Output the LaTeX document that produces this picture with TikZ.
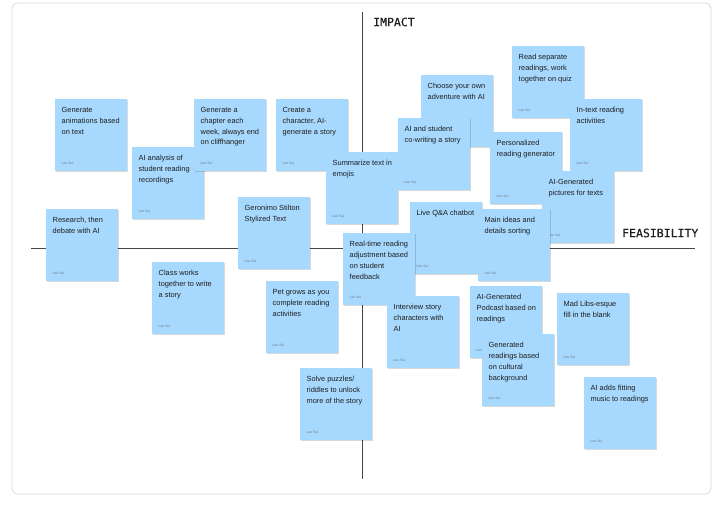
\documentclass[tikz,border=0pt]{standalone}
\usepackage{fontspec}
\setmainfont{Liberation Sans}
\newfontfamily\axisfont[FakeBold=0.5]{DejaVu Sans Mono}
\usetikzlibrary{shadows}

\definecolor{stickyblue}{RGB}{167,216,253}
\definecolor{inkgray}{RGB}{30,30,30}
\definecolor{axisgray}{RGB}{70,70,70}

% text of one sticky note, author line at the bottom
\newcommand{\stickybody}[1]{\vbox to 72pt{\hsize=72pt\parindent=0pt\raggedright\leftskip=6.5pt
  \vskip 8.4pt{\fontsize{7.4}{10.7}\selectfont\color{inkgray}#1\par}
  \vfill{\fontsize{3.4}{4}\selectfont\color{black!55}Leo Sui\par}\vskip 6.8pt}}

\begin{document}
\begin{tikzpicture}[
  x=1pt, y=-1pt,
  sticky/.style={fill=stickyblue, anchor=north west, inner sep=0pt, minimum width=72pt, minimum height=72pt,
    drop shadow={shadow xshift=0.3pt, shadow yshift=-0.9pt, opacity=0.15, fill=black}},
  axisline/.style={draw=axisgray, line width=1pt},
  axislabel/.style={anchor=west, inner sep=0pt, font=\axisfont\fontsize{11.5}{12}\selectfont, text=inkgray},
  frame/.style={draw=black!15, line width=0.8pt, rounded corners=6pt}
]
\useasboundingbox (0,0) rectangle (724,507);

\draw[frame] (12,3) rectangle (711,494);

% axes
\coordinate (impact top) at (362,12);
\coordinate (impact bottom) at (362,479);
\coordinate (feas left) at (31,248);
\coordinate (feas right) at (695,248);
\draw[axisline] (impact top) -- (impact bottom);
\draw[axisline] (feas left) -- (feas right);
\node[axislabel] (impact) at (373,22) {IMPACT};
\node[axislabel] (feasibility) at (622,233) {FEASIBILITY};

% low feasibility side
\node[sticky] (animations) at (55,99) {\stickybody{Generate\\animations based\\on text}};
\node[sticky] (recordings) at (132,147) {\stickybody{AI analysis of\\student reading\\recordings}};
\node[sticky] (chapter) at (194,99) {\stickybody{Generate a\\chapter each\\week, always end\\on cliffhanger}};
\node[sticky] (character) at (276,99) {\stickybody{Create a\\character, AI-\\generate a story}};
\node[sticky] (emojis) at (326,152) {\stickybody{Summarize text in\\emojis}};
\node[sticky] (debate) at (46,209) {\stickybody{Research, then\\debate with AI}};
\node[sticky] (stilton) at (238,197) {\stickybody{Geronimo Stilton\\Stylized Text}};
\node[sticky] (classstory) at (152,262) {\stickybody{Class works\\together to write\\a story}};
\node[sticky] (pet) at (266,281) {\stickybody{Pet grows as you\\complete reading\\activities}};
\node[sticky] (puzzles) at (300,368) {\stickybody{Solve puzzles/\\riddles to unlock\\more of the story}};

% high feasibility side
\node[sticky] (quiz) at (512,46) {\stickybody{Read separate\\readings, work\\together on quiz}};
\node[sticky] (adventure) at (421,75) {\stickybody{Choose your own\\adventure with AI}};
\node[sticky] (cowriting) at (398,118) {\stickybody{AI and student\\co-writing a story}};
\node[sticky] (intext) at (570,99) {\stickybody{In-text reading\\activities}};
\node[sticky] (generator) at (490,132) {\stickybody{Personalized\\reading generator}};
\node[sticky] (pictures) at (542,171) {\stickybody{AI-Generated\\pictures for texts}};
\node[sticky] (chatbot) at (410,202) {\stickybody{Live Q\&A chatbot}};
\node[sticky] (realtime) at (343,233) {\stickybody{Real-time reading\\adjustment based\\on student\\feedback}};
\node[sticky] (mainideas) at (478,209) {\stickybody{Main ideas and\\details sorting}};
\node[sticky] (interview) at (387,296) {\stickybody{Interview story\\characters with\\AI}};
\node[sticky] (podcast) at (470,286) {\stickybody{AI-Generated\\Podcast based on\\readings}};
\node[sticky] (cultural) at (482,334) {\stickybody{Generated\\readings based\\on cultural\\background}};
\node[sticky] (madlibs) at (557,293) {\stickybody{Mad Libs-esque\\fill in the blank}};
\node[sticky] (music) at (584,377) {\stickybody{AI adds fitting\\music to readings}};

\end{tikzpicture}
\end{document}
